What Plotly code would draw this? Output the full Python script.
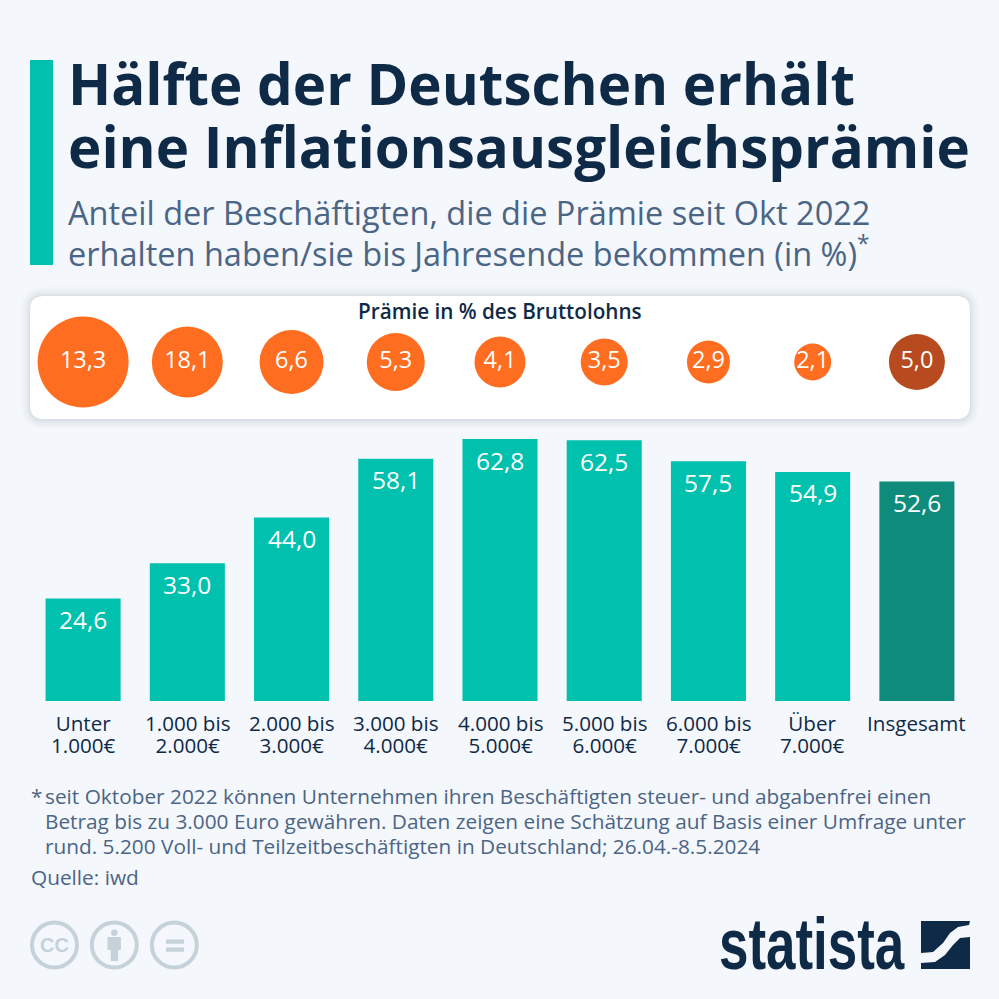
import plotly.graph_objects as go

# data
categories = ["Unter<br>1.000€", "1.000 bis<br>2.000€", "2.000 bis<br>3.000€", "3.000 bis<br>4.000€",
              "4.000 bis<br>5.000€", "5.000 bis<br>6.000€", "6.000 bis<br>7.000€", "Über<br>7.000€", "Insgesamt"]
anteil = [24.6, 33.0, 44.0, 58.1, 62.8, 62.5, 57.5, 54.9, 52.6]
praemie = [13.3, 18.1, 6.6, 5.3, 4.1, 3.5, 2.9, 2.1, 5.0]
# bubble diameters as drawn in the original, they do not scale with the value
bubble_px = [91, 71, 64, 58, 51, 47, 43, 37, 56]

TEAL = "#00c1ad"
TEAL_DARK = "#0f8b7c"
ORANGE = "#ff6d20"
ORANGE_DARK = "#b84a1f"
NAVY = "#0f2a47"
SLATE = "#4b6585"
GREY = "#c5d2da"
BG = "#f4f7fb"
FONT = "Open Sans"
SIZE = 999


def de(v):
    return f"{v:.1f}".replace(".", ",")


def px(x):
    return x / SIZE


def py(y):
    return 1 - y / SIZE


def rrect(x0, y0, x1, y1, r):
    # rounded rectangle in page pixels
    return (f"M{px(x0 + r)},{py(y0)} L{px(x1 - r)},{py(y0)} Q{px(x1)},{py(y0)} {px(x1)},{py(y0 + r)} "
            f"L{px(x1)},{py(y1 - r)} Q{px(x1)},{py(y1)} {px(x1 - r)},{py(y1)} "
            f"L{px(x0 + r)},{py(y1)} Q{px(x0)},{py(y1)} {px(x0)},{py(y1 - r)} "
            f"L{px(x0)},{py(y0 + r)} Q{px(x0)},{py(y0)} {px(x0 + r)},{py(y0)} Z")


def poly(points):
    return "M" + " L".join(f"{px(x)},{py(y)}" for x, y in points) + " Z"


shapes = []
annotations = []


def box(x0, y0, x1, y1, color):
    shapes.append(dict(type="rect", xref="paper", yref="paper", x0=px(x0), x1=px(x1), y0=py(y1), y1=py(y0),
                       fillcolor=color, line_width=0, layer="below"))


def ring(cx, cy, r, width, color, fill="rgba(0,0,0,0)"):
    shapes.append(dict(type="circle", xref="paper", yref="paper", x0=px(cx - r), x1=px(cx + r),
                       y0=py(cy + r), y1=py(cy - r), fillcolor=fill,
                       line=dict(color=color, width=width), layer="below"))


def label(x, y, text, size, color, anchor="left", family=FONT, weight=None):
    annotations.append(dict(xref="paper", yref="paper", x=px(x), y=py(y), text=text, showarrow=False,
                            xanchor=anchor, yanchor="middle", align=anchor, borderpad=0,
                            font=dict(size=size, color=color, family=family, weight=weight)))


# header
box(30, 60, 53, 265, TEAL)
label(67, 83, "<b>Hälfte der Deutschen erhält</b>", 56.5, NAVY)
label(67, 146, "<b>eine Inflationsausgleichsprämie</b>", 56.5, NAVY)
label(67, 212, "Anteil der Beschäftigten, die die Prämie seit Okt 2022", 32.5, SLATE)
label(67, 252, "erhalten haben/sie bis Jahresende bekommen (in %)<sup>*</sup>", 32.5, SLATE)

# card with soft shadow
for grow, alpha in [(9, 0.012), (7, 0.018), (5, 0.025), (3, 0.03), (1, 0.04)]:
    shapes.append(dict(type="path", xref="paper", yref="paper",
                       path=rrect(30 - grow, 296 - grow, 970 + grow, 419 + grow + 1, 14 + grow),
                       fillcolor=f"rgba(40,70,100,{alpha})", line_width=0, layer="below"))
shapes.append(dict(type="path", xref="paper", yref="paper", path=rrect(30, 296, 970, 419, 14),
                   fillcolor="white", line_width=0, layer="below"))
label(500, 311, "Prämie in % des Bruttolohns", 20.7, NAVY, anchor="center", weight=600)

# footnote
label(30, 796, "*", 20.8, SLATE)
label(44, 796, "seit Oktober 2022 können Unternehmen ihren Beschäftigten steuer- und abgabenfrei einen", 20.8, SLATE)
label(44, 821, "Betrag bis zu 3.000 Euro gewähren. Daten zeigen eine Schätzung auf Basis einer Umfrage unter", 20.8, SLATE)
label(44, 846, "rund. 5.200 Voll- und Teilzeitbeschäftigten in Deutschland; 26.04.-8.5.2024", 20.8, SLATE)
label(30, 877, "Quelle: iwd", 20.8, SLATE)

# licence icons
for cx in (54.5, 114.3, 174.3):
    ring(cx, 945, 22.5, 4, GREY)
label(54.5, 945, "<b>CC</b>", 20, GREY, anchor="center", family="Liberation Sans")
ring(114.3, 932.7, 3.3, 0, GREY, fill=GREY)
box(107.5, 937, 120.9, 950, GREY)
box(110.7, 950, 118.1, 961, GREY)
box(166, 939.5, 184, 943.7, GREY)
box(166, 947.5, 184, 951.7, GREY)

# logo, squeezed horizontally after drawing (see post_script)
label(718, 944, "<b>statista</b>", 72, NAVY, family="Liberation Sans")
shapes.append(dict(type="path", xref="paper", yref="paper",
                   path=poly([(921, 921), (970, 921), (969, 925), (958, 927), (950, 933), (943, 943),
                              (933, 952), (921, 953)]),
                   fillcolor=NAVY, line_width=0, layer="below"))
shapes.append(dict(type="path", xref="paper", yref="paper",
                   path=poly([(970, 937), (970, 969), (921, 969), (921, 963), (935, 962), (945, 955),
                              (953, 945), (960, 938)]),
                   fillcolor=NAVY, line_width=0, layer="below"))

fig = go.Figure()
x_pos = list(range(len(anteil)))

# bar values and axis labels as annotations, ticks cannot do the tighter line spacing
for i in x_pos:
    annotations.append(dict(xref="x", yref="y", x=i, y=anteil[i], yshift=-21, text=de(anteil[i]), showarrow=False,
                            xanchor="center", yanchor="middle", font=dict(size=24.5, color="white", family=FONT)))
    annotations.append(dict(xref="x", yref="paper", x=i, y=py(707), text=categories[i], showarrow=False,
                            xanchor="center", yanchor="top", align="center",
                            font=dict(size=20.6, color=NAVY, family=FONT)))

fig.add_trace(go.Bar(
    x=x_pos, y=anteil, width=0.72,
    marker=dict(color=[TEAL] * 8 + [TEAL_DARK], line_width=0),
    hoverinfo="skip", showlegend=False,
))
fig.add_trace(go.Scatter(
    x=x_pos, y=[0] * len(praemie), yaxis="y2", mode="markers+text",
    marker=dict(size=bubble_px, color=[ORANGE] * 8 + [ORANGE_DARK], line_width=0, opacity=1),
    text=[de(v) for v in praemie], textposition="middle center",
    textfont=dict(size=23.5, color="white", family=FONT), cliponaxis=False,
    hoverinfo="skip", showlegend=False,
))

fig.update_layout(
    width=SIZE, height=SIZE, margin=dict(l=0, r=0, t=0, b=0),
    paper_bgcolor=BG, plot_bgcolor="rgba(0,0,0,0)",
    font=dict(family=FONT, color=NAVY),
    shapes=shapes, annotations=annotations,
    xaxis=dict(domain=[px(31), px(969)], range=[-0.5, 8.5], visible=False, fixedrange=True),
    yaxis=dict(domain=[py(701), py(409)], range=[0, 70], visible=False, fixedrange=True),
    yaxis2=dict(domain=[py(424), py(300)], range=[-1, 1], visible=False, fixedrange=True, anchor="x"),
)

post = """
document.body.style.margin='0';document.body.style.overflow='hidden';
var k=0.735;
document.querySelectorAll('.annotation-text').forEach(function(t){
  if(t.textContent==='statista'){
    var b=t.getBBox();
    t.setAttribute('transform','translate('+(b.x*(1-k))+',0) scale('+k+',1)');
  }
  // tighten the two-line axis labels
  var lines=t.querySelectorAll('tspan.line');
  if(lines.length===2 && t.textContent.indexOf('€')>=0){
    lines[1].setAttribute('y',parseFloat(lines[1].getAttribute('y'))-4.8);
  }
});
"""
fig.write_html("out.html", config={"displayModeBar": False}, post_script=post)
